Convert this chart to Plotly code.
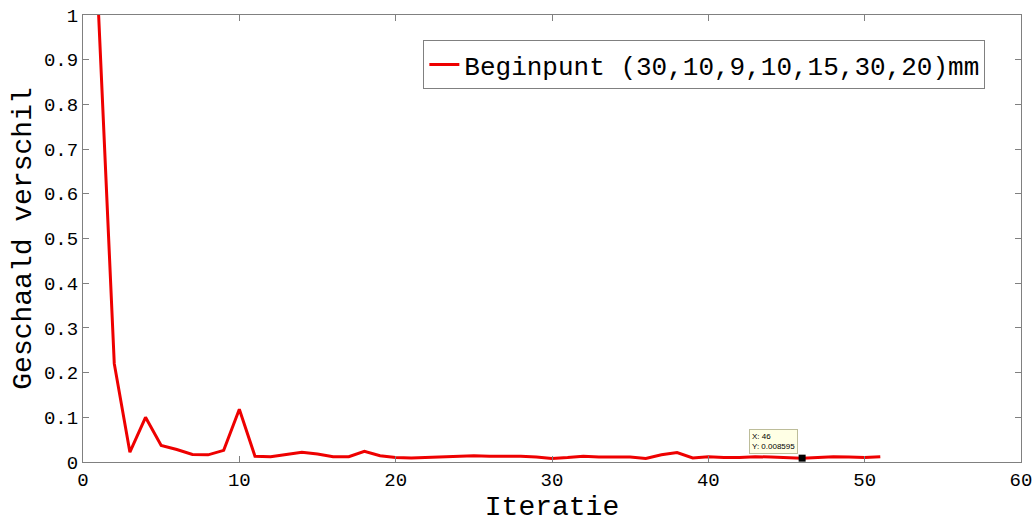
import plotly.graph_objects as go

iterations = list(range(1, 52))
scaled_diff = [
    1.0, 0.22, 0.022, 0.10, 0.037, 0.028, 0.017, 0.016, 0.026, 0.118,
    0.013, 0.012, 0.017, 0.022, 0.018, 0.012, 0.012, 0.024, 0.014, 0.010,
    0.009, 0.010, 0.011, 0.012, 0.014, 0.013, 0.013, 0.013, 0.011, 0.008,
    0.010, 0.013, 0.011, 0.011, 0.011, 0.008, 0.016, 0.021, 0.009, 0.012,
    0.010, 0.010, 0.012, 0.011, 0.010, 0.008595, 0.010, 0.012, 0.011, 0.010,
    0.012,
]
legend_label = "Beginpunt (30,10,9,10,15,30,20)mm"
tip_x = 46
tip_y = 0.008595

x_ticks = [0, 10, 20, 30, 40, 50, 60]
y_ticks = [0, 0.1, 0.2, 0.3, 0.4, 0.5, 0.6, 0.7, 0.8, 0.9, 1]
y_ticktext = ["0", "0.1", "0.2", "0.3", "0.4", "0.5", "0.6", "0.7", "0.8", "0.9", "1"]

FONT = "Liberation Mono, DejaVu Sans Mono, monospace"
AX = "#808080"

fig = go.Figure()
fig.add_trace(go.Scatter(
    x=iterations, y=scaled_diff, mode="lines", name=legend_label,
    line=dict(color="#ee0000", width=3),
))
fig.add_trace(go.Scatter(
    x=[tip_x], y=[tip_y], mode="markers", showlegend=False,
    marker=dict(symbol="square", color="black", size=7),
))
fig.add_annotation(
    x=tip_x, y=tip_y, xref="x", yref="y", showarrow=False,
    xanchor="right", yanchor="bottom", xshift=-4, yshift=4,
    text=f"X: {tip_x}<br>Y: {tip_y}", align="left",
    font=dict(family="Liberation Sans, Arial", size=8, color="black"),
    bgcolor="#ffffe5", bordercolor="#bdbd9a", borderwidth=1, borderpad=2,
)

axis_common = dict(
    showline=True, linecolor=AX, linewidth=1, mirror="allticks",
    ticks="inside", ticklen=6, tickcolor=AX, showgrid=False, zeroline=False,
    tickfont=dict(family=FONT, size=19, color="black"), automargin=False,
)
fig.update_xaxes(
    range=[0, 60], tickvals=x_ticks, **axis_common,
    title=dict(text="Iteratie", font=dict(family=FONT, size=28, color="black"), standoff=4),
)
fig.update_yaxes(
    range=[0, 1], tickvals=y_ticks, ticktext=y_ticktext, **axis_common,
    title=dict(text="Geschaald verschil", font=dict(family=FONT, size=28, color="black"), standoff=4),
)
fig.update_layout(
    width=1036, height=525,
    margin=dict(l=83, r=15, t=15, b=63, autoexpand=False),
    paper_bgcolor="white", plot_bgcolor="white",
    legend=dict(
        x=0.962, y=0.944, xanchor="right", yanchor="top",
        bgcolor="white", bordercolor=AX, borderwidth=1,
        font=dict(family=FONT, size=26, color="black"),
        itemwidth=30,
    ),
)
fig.write_html("out.html")
